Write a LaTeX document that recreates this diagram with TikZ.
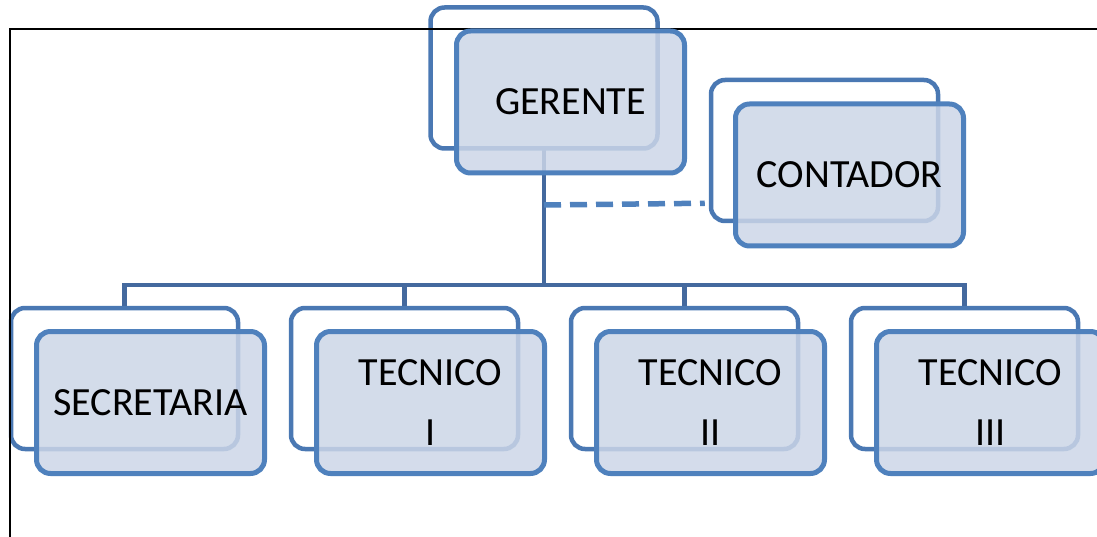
\documentclass[tikz,border=0pt]{standalone}
\usepackage{fontspec}
\setmainfont{Carlito}
\definecolor{boxblue}{HTML}{4F81BD}
\definecolor{backblue}{HTML}{4A78B3}
\definecolor{linkblue}{HTML}{44699E}
\definecolor{boxfill}{HTML}{CCD6E7}
\pgfdeclarelayer{background}
\pgfsetlayers{background,main}
\begin{document}
\begin{tikzpicture}[x=1pt,y=-1pt,
  frontbox/.style={draw=boxblue, line width=5pt, fill=boxfill, fill opacity=0.85,
    text opacity=1, rounded corners=14pt, minimum width=228pt, minimum height=142pt,
    inner sep=0pt, align=center, font=\fontsize{40}{60}\selectfont},
  backbox/.style={draw=backblue, line width=4.5pt, fill=white, rounded corners=14pt,
    minimum width=227pt, minimum height=141pt, inner sep=0pt},
  orgline/.style={draw=linkblue, line width=4.5pt},
  dashline/.style={draw=boxblue, line width=5.5pt, dash pattern=on 17pt off 9pt},
  frameline/.style={draw=black, line width=2pt}]
\useasboundingbox (0,0) rectangle (1097,537);

% shadow (back) boxes
\node[backbox] (gerb) at (544,78) {};
\node[backbox] (conb) at (824.5,150.5) {};
\node[backbox] (secb) at (124.5,378.5) {};
\node[backbox] (t1b)  at (404.5,378.5) {};
\node[backbox] (t2b)  at (684.5,378.5) {};
\node[backbox] (t3b)  at (964.5,378.5) {};

% connectors
\coordinate (bus) at (544,285);
\coordinate (dj) at (544,205);
\coordinate (de) at ([yshift=20pt,xshift=-4pt]conb.south west);
\begin{pgfonlayer}{background}
  \draw[orgline] (gerb.center) -- (bus);
  \draw[orgline] (secb.north) |- (bus) -| (t3b.north);
  \draw[orgline] (t1b.north) -- (t1b.north |- bus);
  \draw[orgline] (t2b.north) -- (t2b.north |- bus);
  \draw[dashline] (dj) -- (de);
\end{pgfonlayer}

% page border
\coordinate (fr1) at (1097,29);
\coordinate (fr2) at (10,29);
\coordinate (fr3) at (10,537);
\draw[frameline] (fr1) -- (fr2) -- (fr3);

% front boxes
\node[frontbox] (ger) at (570.5,102) {GERENTE};
\node[frontbox] (con) at (849.5,175) {CONTADOR};
\node[frontbox] (sec) at (150.5,402.5) {SECRETARIA};
\node[frontbox] (t1)  at (430.5,402.5) {TECNICO\\I};
\node[frontbox] (t2)  at (710.5,402.5) {TECNICO\\II};
\node[frontbox] (t3)  at (990.5,402.5) {TECNICO\\III};
\end{tikzpicture}
\end{document}
